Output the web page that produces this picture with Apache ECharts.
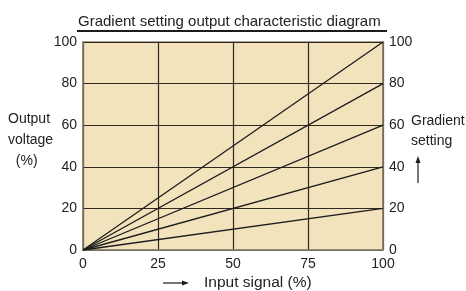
<!DOCTYPE html>
<html>
<head>
<meta charset="utf-8">
<script src="https://cdn.jsdelivr.net/npm/echarts@6/dist/echarts.min.js"></script>
<style>
  html, body { margin: 0; padding: 0; background: #fff; }
  #chart { width: 466px; height: 291px; }
</style>
</head>
<body>
<div id="chart"></div>
<script>
// input signal range (%)
var inputSignal = [0, 100];
// gradient settings (%) -> output at 100% input
var gradients = [100, 80, 60, 40, 20];
var xTicks = [0, 25, 50, 75, 100];
var yTicks = [0, 20, 40, 60, 80, 100];

var FONT = "'Liberation Sans', Arial, sans-serif";

var chart = echarts.init(document.getElementById('chart'));

var seriesList = gradients.map(function (g) {
	return {
		name: 'Gradient ' + g,
		type: 'line',
		symbol: 'none',
		silent: true,
		lineStyle: { color: '#1c1c1c', width: 1.3 },
		data: inputSignal.map(function (x) { return [x, x * g / 100]; })
	};
});

var axisText = { color: '#222', fontSize: 14, fontFamily: FONT };

var option = {
	animation: false,
	textStyle: { fontFamily: FONT },
	title: {
		text: 'Gradient setting output characteristic diagram',
		left: 73,
		top: 9,
		textStyle: { fontSize: 15, fontWeight: 'normal', color: '#222', fontFamily: FONT }
	},
	grid: {
		left: 83, right: 83, top: 42, bottom: 41,
		show: true,
		backgroundColor: '#f2e3bd',
		borderColor: '#8c8272',
		borderWidth: 1.5
	},
	xAxis: {
		type: 'value',
		min: 0, max: 100, interval: 25,
		axisLine: { show: true, lineStyle: { color: '#8c8272', width: 1.5 } },
		axisTick: { show: false },
		axisLabel: Object.assign({ margin: 7 }, axisText),
		splitLine: { show: true, lineStyle: { color: '#2e2a22', width: 1.2 } }
	},
	yAxis: [
		{
			type: 'value',
			min: 0, max: 100, interval: 20,
			axisLine: { show: true, lineStyle: { color: '#8c8272', width: 1.5 } },
			axisTick: { show: false },
			axisLabel: Object.assign({ margin: 6 }, axisText),
			splitLine: { show: true, lineStyle: { color: '#2e2a22', width: 1.2 } }
		},
		{
			type: 'value',
			position: 'right',
			min: 0, max: 100, interval: 20,
			axisLine: { show: true, lineStyle: { color: '#8c8272', width: 1.5 } },
			axisTick: { show: false },
			axisLabel: Object.assign({ margin: 6 }, axisText),
			splitLine: { show: false }
		}
	],
	graphic: [
		// title underline
		{ type: 'line', shape: { x1: 77, y1: 31, x2: 387, y2: 31 }, style: { stroke: '#1c1c1c', lineWidth: 2 } },
		// left axis name
		{ type: 'text', left: 8, top: 109, style: { text: 'Output\nvoltage\n  (%)', font: '14px ' + FONT, fill: '#222', lineHeight: 21 } },
		// right axis name
		{ type: 'text', left: 411, top: 111, style: { text: 'Gradient\nsetting', font: '14px ' + FONT, fill: '#222', lineHeight: 20 } },
		// up arrow
		{ type: 'line', shape: { x1: 418, y1: 183, x2: 418, y2: 160 }, style: { stroke: '#1c1c1c', lineWidth: 1.2 } },
		{ type: 'polygon', shape: { points: [[418, 156], [415.5, 163], [420.5, 163]] }, style: { fill: '#1c1c1c' } },
		// right arrow for x-axis name
		{ type: 'line', shape: { x1: 163, y1: 283, x2: 184, y2: 283 }, style: { stroke: '#1c1c1c', lineWidth: 1.2 } },
		{ type: 'polygon', shape: { points: [[189, 283], [182, 280.5], [182, 285.5]] }, style: { fill: '#1c1c1c' } },
		{ type: 'text', left: 204, top: 275, style: { text: 'Input signal (%)', font: '15.5px ' + FONT, fill: '#222' } }
	],
	series: seriesList
};

chart.setOption(option);
</script>
</body>
</html>
